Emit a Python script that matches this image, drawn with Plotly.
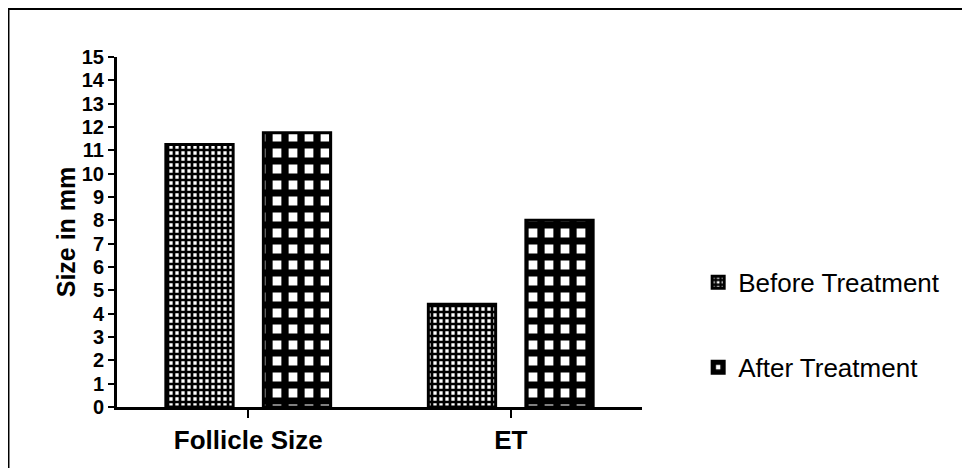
import plotly.graph_objects as go

categories = ["Follicle Size", "ET"]
before_treatment = [11.25, 4.4]
after_treatment = [11.75, 8.0]
y_ticks = list(range(0, 16))

FONT = "Liberation Sans, Arial, sans-serif"

fig = go.Figure()
fig.add_trace(go.Bar(
    x=categories, y=before_treatment, name="Before Treatment", legendgroup="a",
    marker=dict(color="white", line=dict(color="black", width=3),
                pattern=dict(shape="+", fgcolor="black", bgcolor="white", size=6,
                             solidity=0.7, fillmode="replace", fgopacity=1)),
))
fig.add_trace(go.Bar(
    x=categories, y=after_treatment, name="After Treatment", legendgroup="b",
    marker=dict(color="white", line=dict(color="black", width=3),
                pattern=dict(shape="+", fgcolor="black", bgcolor="white", size=16,
                             solidity=0.7, fillmode="replace", fgopacity=1)),
))

fig.update_layout(
    width=970, height=468,
    margin=dict(l=109, r=336, t=49, b=69),
    plot_bgcolor="white", paper_bgcolor="white",
    barmode="group", bargap=0.257, bargroupgap=0.31,
    font=dict(family=FONT, color="black"),
    showlegend=True,
    legend=dict(x=1.107, y=0.423, xanchor="left", yanchor="top",
                font=dict(size=26), tracegroupgap=48, itemwidth=30),
    shapes=[dict(type="rect", xref="paper", yref="paper", x0=-0.2067, x1=2, y0=-1, y1=1.137,
                 line=dict(color="black", width=2), fillcolor="rgba(0,0,0,0)", layer="below")],
)
fig.update_xaxes(range=[-0.5, 1.5], showline=True, linecolor="black", linewidth=3,
                 ticks="outside", ticklen=8, tickwidth=2, tickcolor="black",
                 tickfont=dict(size=26, family=FONT),
                 ticktext=["<b>Follicle Size</b>", "<b>ET</b>"], tickvals=categories,
                 showgrid=False, zeroline=False)
fig.update_yaxes(range=[0, 15], showline=True, linecolor="black", linewidth=3,
                 ticks="outside", ticklen=6, tickwidth=2, tickcolor="black",
                 tickvals=y_ticks, ticktext=[f"<b>{v}</b>" for v in y_ticks],
                 tickfont=dict(size=20), ticklabelstandoff=0,
                 title=dict(text="<b>Size in mm</b>", font=dict(size=25), standoff=0),
                 showgrid=False, zeroline=False)

fig.write_html("out.html")
